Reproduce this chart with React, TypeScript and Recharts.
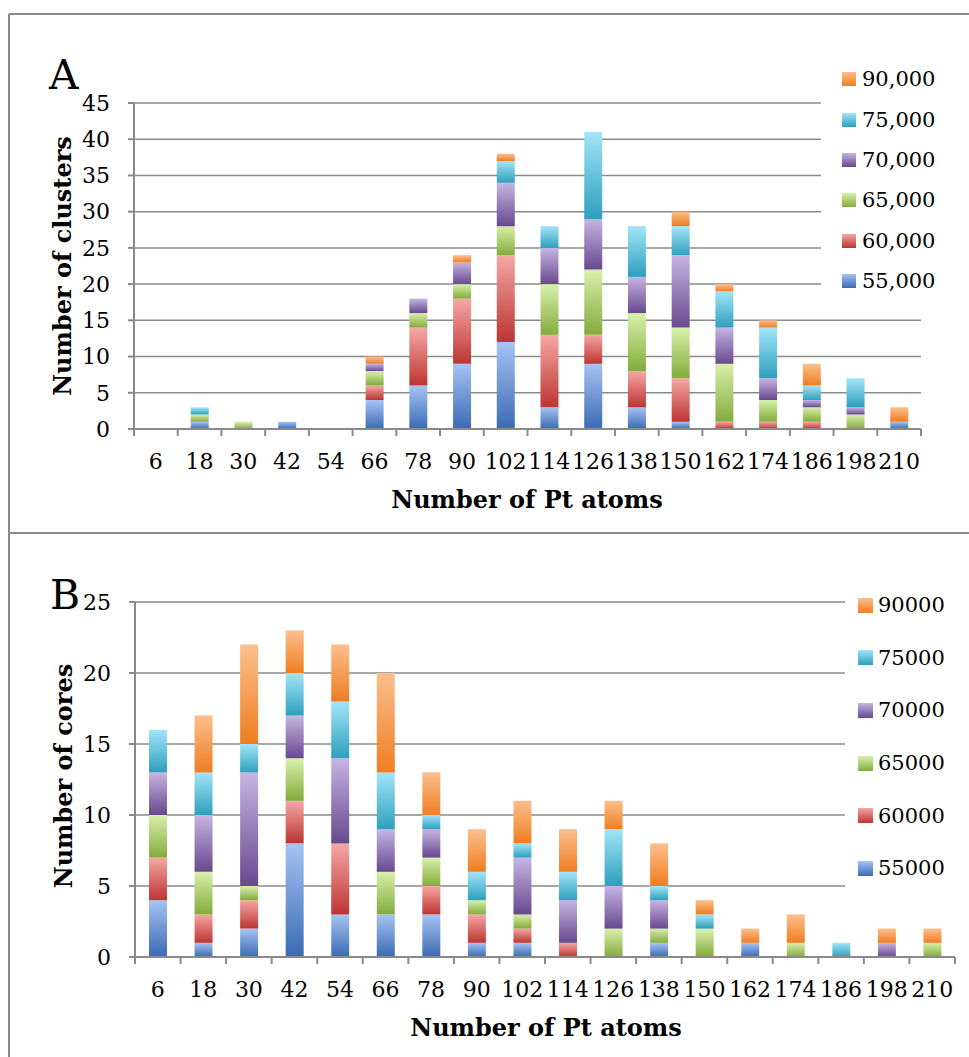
import React from "react";
import { BarChart, Bar, XAxis, YAxis, CartesianGrid } from "recharts";

// Pt cluster sizes (x categories)
const atoms = [6, 18, 30, 42, 54, 66, 78, 90, 102, 114, 126, 138, 150, 162, 174, 186, 198, 210];

// Panel A: number of clusters per size, one array per series
const clusters55 = [0, 1, 0, 1, 0, 4, 6, 9, 12, 3, 9, 3, 1, 0, 0, 0, 0, 1];
const clusters60 = [0, 0, 0, 0, 0, 2, 8, 9, 12, 10, 4, 5, 6, 1, 1, 1, 0, 0];
const clusters65 = [0, 1, 1, 0, 0, 2, 2, 2, 4, 7, 9, 8, 7, 8, 3, 2, 2, 0];
const clusters70 = [0, 0, 0, 0, 0, 1, 2, 3, 6, 5, 7, 5, 10, 5, 3, 1, 1, 0];
const clusters75 = [0, 1, 0, 0, 0, 0, 0, 0, 3, 3, 12, 7, 4, 5, 7, 2, 4, 0];
const clusters90 = [0, 0, 0, 0, 0, 1, 0, 1, 1, 0, 0, 0, 2, 1, 1, 3, 0, 2];

// Panel B: number of cores per size
const cores55 = [4, 1, 2, 8, 3, 3, 3, 1, 1, 0, 0, 1, 0, 1, 0, 0, 0, 0];
const cores60 = [3, 2, 2, 3, 5, 0, 2, 2, 1, 1, 0, 0, 0, 0, 0, 0, 0, 0];
const cores65 = [3, 3, 1, 3, 0, 3, 2, 1, 1, 0, 2, 1, 2, 0, 1, 0, 0, 1];
const cores70 = [3, 4, 8, 3, 6, 3, 2, 0, 4, 3, 3, 2, 0, 0, 0, 0, 1, 0];
const cores75 = [3, 3, 2, 3, 4, 4, 1, 2, 1, 2, 4, 1, 1, 0, 0, 1, 0, 0];
const cores90 = [0, 4, 7, 3, 4, 7, 3, 3, 3, 3, 2, 3, 1, 1, 2, 0, 1, 1];

const labelsA = ["55,000", "60,000", "65,000", "70,000", "75,000", "90,000"];
const labelsB = ["55000", "60000", "65000", "70000", "75000", "90000"];
const ticksA = [0, 5, 10, 15, 20, 25, 30, 35, 40, 45];
const ticksB = [0, 5, 10, 15, 20, 25];

const keys = ["s55", "s60", "s65", "s70", "s75", "s90"];
// light top -> dark bottom, like the Excel 2007 gradient fills
const grads = [
  ["#a6c3f3", "#3a6ab3"],
  ["#f6a7a5", "#bc3532"],
  ["#d8f0ab", "#84ab3c"],
  ["#c6b5e1", "#68488f"],
  ["#a2e5f8", "#2e9fbd"],
  ["#fcbf8e", "#ef7d20"],
];

const FONT = "'DejaVu Serif', serif";
const GRAY = "#8a8a8a";

const rowsA = atoms.map((a, i) => ({
  atoms: a,
  s55: clusters55[i],
  s60: clusters60[i],
  s65: clusters65[i],
  s70: clusters70[i],
  s75: clusters75[i],
  s90: clusters90[i],
}));

const rowsB = atoms.map((a, i) => ({
  atoms: a,
  s55: cores55[i],
  s60: cores60[i],
  s65: cores65[i],
  s70: cores70[i],
  s75: cores75[i],
  s90: cores90[i],
}));

function Gradients({ prefix }: { prefix: string }) {
  return (
    <defs>
      {grads.map((g, i) => (
        <linearGradient key={i} id={`${prefix}${i}`} x1="0" y1="0" x2="0" y2="1">
          <stop offset="0%" stopColor={g[0]} />
          <stop offset="100%" stopColor={g[1]} />
        </linearGradient>
      ))}
    </defs>
  );
}

// label centred in the band, tick marks on the band edges
function makeTick(axisY: number, bw: number) {
  return (props: any) => {
    const { x, payload, index } = props;
    const left = x - bw / 2;
    return (
      <g>
        <line x1={left} y1={axisY} x2={left} y2={axisY + 7} stroke={GRAY} strokeWidth={2} />
        {index === atoms.length - 1 && (
          <line x1={x + bw / 2} y1={axisY} x2={x + bw / 2} y2={axisY + 7} stroke={GRAY} strokeWidth={2} />
        )}
        <text x={x} y={axisY + 32} dy="0.36em" textAnchor="middle" fontFamily={FONT} fontSize={22} fill="#000">
          {payload.value}
        </text>
      </g>
    );
  };
}

function Panel(props: {
  rows: any[];
  height: number;
  margin: { top: number; right: number; bottom: number; left: number };
  max: number;
  ticks: number[];
  prefix: string;
}) {
  const { rows, height, margin, max, ticks, prefix } = props;
  const plotW = 969 - margin.left - 60 - margin.right;
  const axisY = height - margin.bottom - 60;
  return (
    <BarChart width={969} height={height} data={rows} margin={margin} barSize={18}>
      <Gradients prefix={prefix} />
      <CartesianGrid vertical={false} stroke={GRAY} strokeWidth={1.5} />
      <XAxis
        dataKey="atoms"
        height={60}
        interval={0}
        tickLine={false}
        axisLine={{ stroke: GRAY, strokeWidth: 2 }}
        tick={makeTick(axisY, plotW / atoms.length)}
      />
      <YAxis
        width={60}
        domain={[0, max]}
        ticks={ticks}
        interval={0}
        tickSize={6}
        tickMargin={18}
        tickLine={{ stroke: GRAY, strokeWidth: 2 }}
        axisLine={{ stroke: GRAY, strokeWidth: 2 }}
        tick={{ fill: "#000", fontSize: 22, fontFamily: FONT }}
      />
      {keys.map((k, i) => (
        <Bar key={k} dataKey={k} stackId="a" fill={`url(#${prefix}${i})`} isAnimationActive={false} />
      ))}
    </BarChart>
  );
}

function Legend(props: { labels: string[]; left: number; top: number; itemH: number; pad: number; box: number; gap: number }) {
  const { labels, left, top, itemH, pad, box, gap } = props;
  const order = [...labels.keys()].reverse();
  return (
    <div
      style={{
        position: "absolute",
        left,
        top,
        width: 969 - left,
        background: "#fff",
        fontFamily: FONT,
        fontSize: 21,
      }}
    >
      {order.map((i) => (
        <div key={i} style={{ height: itemH, display: "flex", alignItems: "center", paddingLeft: pad }}>
          <span
            style={{
              width: box,
              height: box,
              marginRight: gap,
              background: `linear-gradient(${grads[i][0]}, ${grads[i][1]})`,
            }}
          />
          <span>{labels[i]}</span>
        </div>
      ))}
    </div>
  );
}

export default function App() {
  return (
    <div style={{ position: "absolute", left: 0, top: 0, width: 969, height: 1057, background: "#fff", overflow: "hidden" }}>
      <div style={{ position: "absolute", left: 0, top: 0 }}>
        <Panel rows={rowsA} height={533} margin={{ top: 103, right: 48, bottom: 44, left: 74 }} max={45} ticks={ticksA} prefix="ga" />
      </div>
      <div style={{ position: "absolute", left: 0, top: 533 }}>
        <Panel rows={rowsB} height={524} margin={{ top: 69, right: 14, bottom: 40, left: 75 }} max={25} ticks={ticksB} prefix="gb" />
      </div>
      <Legend labels={labelsA} left={821} top={59} itemH={40.4} pad={21} box={14} gap={6} />
      <Legend labels={labelsB} left={845} top={579} itemH={52.6} pad={13} box={15} gap={5} />
      <svg width={969} height={1057} style={{ position: "absolute", left: 0, top: 0, pointerEvents: "none" }}>
        <line x1={9} y1={14} x2={969} y2={14} stroke={GRAY} strokeWidth={2} />
        <line x1={9} y1={14} x2={9} y2={1057} stroke={GRAY} strokeWidth={2} />
        <line x1={9} y1={533} x2={969} y2={533} stroke={GRAY} strokeWidth={2} />
        <text x={49} y={89} fontFamily={FONT} fontSize={41} fill="#000">A</text>
        <text x={50} y={609} fontFamily={FONT} fontSize={41} fill="#000">B</text>
        <text x={527} y={508} textAnchor="middle" fontFamily={FONT} fontWeight="bold" fontSize={24} fill="#000">
          Number of Pt atoms
        </text>
        <text x={546} y={1036} textAnchor="middle" fontFamily={FONT} fontWeight="bold" fontSize={24} fill="#000">
          Number of Pt atoms
        </text>
        <text transform="translate(71,266) rotate(-90)" textAnchor="middle" fontFamily={FONT} fontWeight="bold" fontSize={24} fill="#000">
          Number of clusters
        </text>
        <text transform="translate(72,776) rotate(-90)" textAnchor="middle" fontFamily={FONT} fontWeight="bold" fontSize={24} fill="#000">
          Number of cores
        </text>
      </svg>
    </div>
  );
}
